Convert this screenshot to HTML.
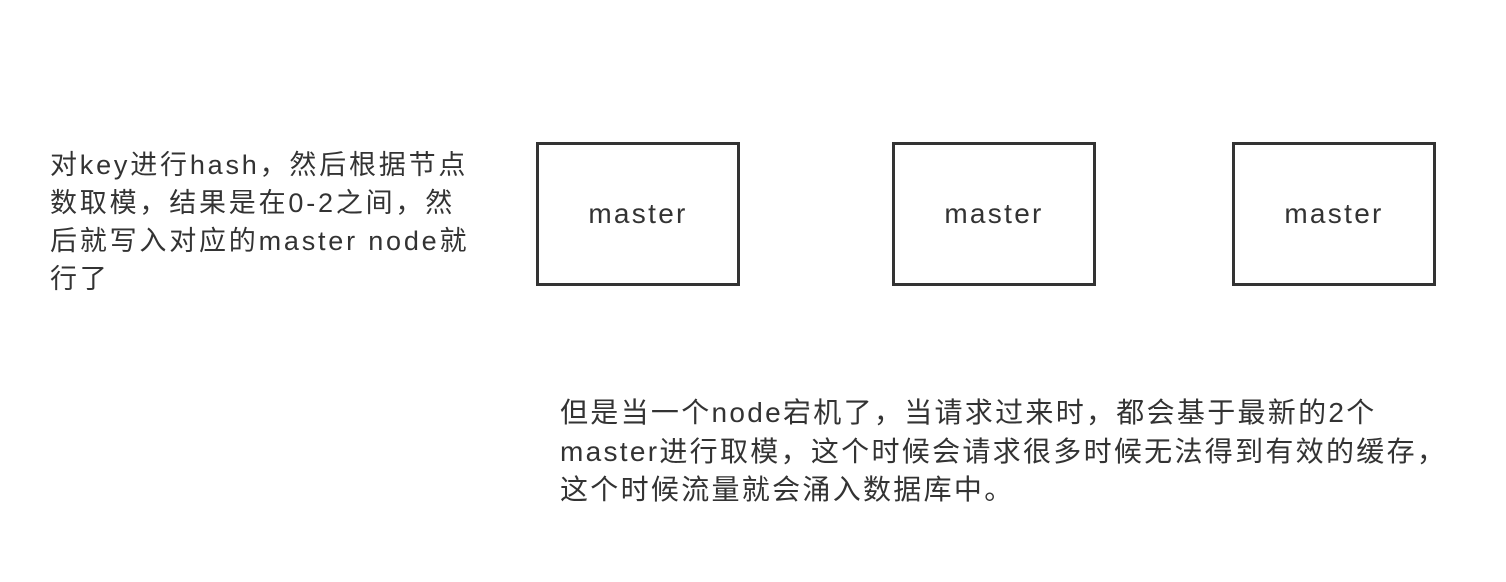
<!DOCTYPE html>
<html><head><meta charset="utf-8"><style>
html,body{margin:0;padding:0;background:#fff;}
body{width:1506px;height:582px;position:relative;overflow:hidden;font-family:"Liberation Sans","Noto Sans CJK SC",sans-serif;color:#333;}
.box{position:absolute;top:142px;width:198px;height:138px;border:3px solid #333;display:flex;align-items:center;justify-content:center;font-size:28px;letter-spacing:2.3px;color:#333;}
.t{position:absolute;font-size:27px;line-height:38px;white-space:nowrap;color:#333;letter-spacing:2.8px;}
</style></head><body>
<div class="t" style="left:50px;top:146px;">对key进行hash，然后根据节点<br>数取模，结果是在0-2之间，然<br>后就写入对应的master node就<br>行了</div>
<div class="box" style="left:536px;">master</div>
<div class="box" style="left:892px;">master</div>
<div class="box" style="left:1232px;">master</div>
<div class="t" style="left:560px;top:394px;font-size:28px;letter-spacing:2.3px;line-height:38.5px;">但是当一个node宕机了，当请求过来时，都会基于最新的2个<br>master进行取模，这个时候会请求很多时候无法得到有效的缓存，<br>这个时候流量就会涌入数据库中。</div>
</body></html>
